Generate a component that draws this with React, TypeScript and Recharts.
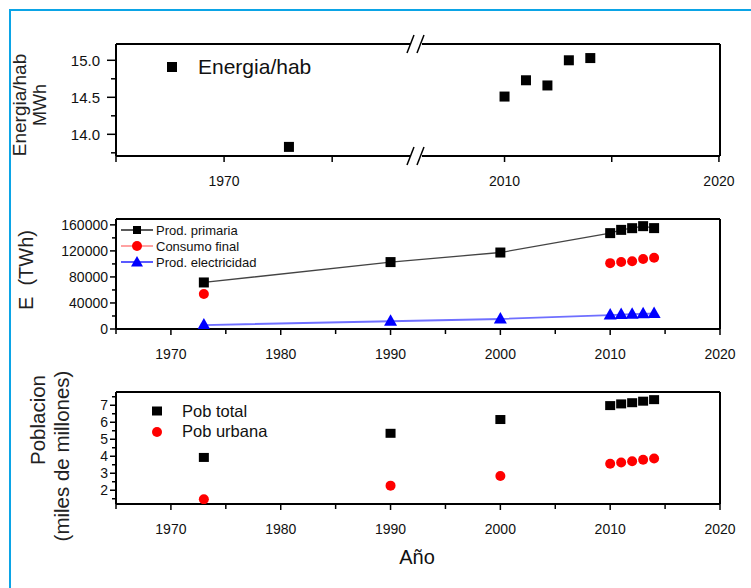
import React from "react";
import { ScatterChart, Scatter, XAxis, YAxis, Legend, Label, ReferenceLine } from "recharts";

const FONT = '"Liberation Sans", Arial, Helvetica, sans-serif';
const FRAME_BLUE = "#0ba4e6";

// Energia/hab (MWh) - eje x con corte
const energiaYears = [1973, 2010, 2011, 2012, 2013, 2014];
const energiaHab = [13.83, 14.51, 14.73, 14.66, 15.0, 15.03];

// E (TWh)
const eYears = [1973, 1990, 2000, 2010, 2011, 2012, 2013, 2014];
const prodPrimaria = [71500, 102800, 117500, 147300, 152300, 154900, 158000, 155000];
const consumoYears = [1973, 2010, 2011, 2012, 2013, 2014];
const consumoFinal = [53700, 101200, 103000, 104000, 107500, 109500];
const prodElectricidad = [6100, 11900, 15400, 21400, 22200, 22700, 23300, 23800];

// Poblacion (miles de millones)
const popYears = [1973, 1990, 2000, 2010, 2011, 2012, 2013, 2014];
const pobTotal = [3.93, 5.35, 6.16, 6.98, 7.08, 7.15, 7.24, 7.33];
const pobUrbana = [1.47, 2.27, 2.84, 3.56, 3.63, 3.71, 3.79, 3.87];

// ticks
const yearTicks = [1965, 1970, 1975, 1980, 1985, 1990, 1995, 2000, 2005, 2010, 2015, 2020];
const yearLabels = [1970, 1980, 1990, 2000, 2010, 2020];
const leftYearTicks = [1965, 1970, 1975];
const rightYearTicks = [2010, 2015, 2020];
const brokenYearLabels = [1970, 2010, 2020];
const energiaTicks = [13.75, 14, 14.25, 14.5, 14.75, 15];
const energiaLabels = [14, 14.5, 15];
const eTicks = [0, 20000, 40000, 60000, 80000, 100000, 120000, 140000, 160000];
const eLabels = [0, 40000, 80000, 120000, 160000];
const popTicks = [1.5, 2, 2.5, 3, 3.5, 4, 4.5, 5, 5.5, 6, 6.5, 7, 7.5];
const popLabels = [2, 3, 4, 5, 6, 7];

const toPoints = (xs: number[], ys: number[]) => xs.map((x, i) => ({ x, y: ys[i] }));

const axisLine = { stroke: "#000", strokeWidth: 2 };

function xTick(labels: number[], major: number, minor: number) {
  return (props: any) => {
    const { x, y, payload } = props;
    const on = labels.includes(payload.value);
    return (
      <g>
        <line x1={x} x2={x} y1={y} y2={y + (on ? major : minor)} stroke="#000" strokeWidth={1.5} />
        {on && (
          <text x={x} y={y + 30} textAnchor="middle" fontFamily={FONT} fontSize={14} fill="#111">
            {payload.value}
          </text>
        )}
      </g>
    );
  };
}

function yTick(labels: number[], major: number, minor: number, gap: number, fmt: (v: number) => string, size = 14) {
  return (props: any) => {
    const { x, y, payload } = props;
    const on = labels.includes(payload.value);
    return (
      <g>
        <line x1={x - (on ? major : minor)} x2={x} y1={y} y2={y} stroke="#000" strokeWidth={1.5} />
        {on && (
          <text x={x - major - gap} y={y} dy="0.36em" textAnchor="end" fontFamily={FONT} fontSize={size} fill="#111">
            {fmt(payload.value)}
          </text>
        )}
      </g>
    );
  };
}

const square = (w: number, h: number) => (p: any) =>
  <rect x={p.cx - w / 2} y={p.cy - h / 2} width={w} height={h} fill="#000" />;
const redDot = (p: any) => <circle cx={p.cx} cy={p.cy} r={5} fill="#ff0000" />;
const blueTri = (p: any) => (
  <polygon points={`${p.cx},${p.cy - 7} ${p.cx - 6.5},${p.cy + 4.5} ${p.cx + 6.5},${p.cy + 4.5}`} fill="#0000ff" />
);

const eSeries = [
  { name: "Prod. primaria", line: "#000", kind: "square" },
  { name: "Consumo final", line: "#ff7070", kind: "circle" },
  { name: "Prod. electricidad", line: "#0000ff", kind: "triangle" },
];

function marker(kind: string, cx: number, cy: number) {
  if (kind === "square") return <rect x={cx - 4} y={cy - 4} width={8} height={8} fill="#000" />;
  if (kind === "circle") return <circle cx={cx} cy={cy} r={5} fill="#ff0000" />;
  return <polygon points={`${cx},${cy - 6} ${cx - 6},${cy + 4.5} ${cx + 6},${cy + 4.5}`} fill="#0000ff" />;
}

function ELegend() {
  return (
    <div style={{ fontFamily: FONT, fontSize: 13, color: "#111" }}>
      {eSeries.map((s) => (
        <div key={s.name} style={{ display: "flex", alignItems: "center", height: 16 }}>
          <svg width={34} height={16}>
            <line x1={0} x2={32} y1={8} y2={8} stroke={s.line} strokeWidth={1.3} />
            {marker(s.kind, 16, 8)}
          </svg>
          <span style={{ marginLeft: 1 }}>{s.name}</span>
        </div>
      ))}
    </div>
  );
}

function PopLegend() {
  const rows = [
    { name: "Pob total", kind: "square" },
    { name: "Pob urbana", kind: "circle" },
  ];
  return (
    <div style={{ fontFamily: FONT, fontSize: 16.5, color: "#111" }}>
      {rows.map((r) => (
        <div key={r.name} style={{ display: "flex", alignItems: "center", height: 20.5 }}>
          <svg width={14} height={20}>
            {r.kind === "square" ? <rect x={2} y={5.5} width={10} height={9} fill="#000" /> : <circle cx={7} cy={10} r={5} fill="#ff0000" />}
          </svg>
          <span style={{ marginLeft: 18 }}>{r.name}</span>
        </div>
      ))}
    </div>
  );
}

function EnergiaLegend() {
  return (
    <div style={{ fontFamily: FONT, fontSize: 21, color: "#111", display: "flex", alignItems: "center", height: 24 }}>
      <svg width={12} height={24}>
        <rect x={1} y={7} width={10} height={10} fill="#000" />
      </svg>
      <span style={{ marginLeft: 20 }}>Energia/hab</span>
    </div>
  );
}

const frame = { stroke: "#000", strokeWidth: 2 };

function TopPanel() {
  const pts = toPoints(energiaYears, energiaHab);
  const leftPts = pts.filter((p) => p.x < 1990);
  const rightPts = pts.filter((p) => p.x >= 1990);
  const yDomain = [13.707, 15.22];
  return (
    <>
      <div style={{ position: "absolute", left: 0, top: 0 }}>
        <ScatterChart width={410} height={200} margin={{ top: 44, right: 0, bottom: 14, left: 0 }}>
          <XAxis dataKey="x" type="number" domain={[1965, 1978.6]} allowDataOverflow ticks={leftYearTicks} interval={0}
            tickSize={0} tickMargin={0} tickLine={false} axisLine={axisLine} height={30} tick={xTick(brokenYearLabels, 6, 6)} />
          <YAxis dataKey="y" type="number" domain={yDomain} allowDataOverflow ticks={energiaTicks} interval={0}
            tickSize={0} tickMargin={0} tickLine={false} axisLine={axisLine} width={116}
            tick={yTick(energiaLabels, 9, 5, 7, (v) => v.toFixed(1), 15)}>
            <Label content={() => (
              <g fontFamily={FONT} fill="#222">
                <text transform="translate(26,105) rotate(-90)" textAnchor="middle" fontSize={19}>Energia/hab</text>
                <text transform="translate(46,105) rotate(-90)" textAnchor="middle" fontSize={18}>MWh</text>
              </g>
            )} />
          </YAxis>
          <ReferenceLine y={yDomain[1]} {...frame} />
          <Legend layout="vertical" align="center" verticalAlign="middle" wrapperStyle={{ left: 166, top: 55, width: "auto" }}
            content={() => <EnergiaLegend />} />
          <Scatter data={leftPts} shape={square(10, 10)} isAnimationActive={false} />
        </ScatterChart>
      </div>
      <div style={{ position: "absolute", left: 422, top: 0 }}>
        <ScatterChart width={329} height={200} margin={{ top: 44, right: 31, bottom: 14, left: 0 }}>
          <XAxis dataKey="x" type="number" domain={[2006.15, 2020.05]} allowDataOverflow ticks={rightYearTicks} interval={0}
            tickSize={0} tickMargin={0} tickLine={false} axisLine={axisLine} height={30} tick={xTick(brokenYearLabels, 6, 6)} />
          <YAxis dataKey="y" type="number" domain={yDomain} allowDataOverflow hide />
          <ReferenceLine y={yDomain[1]} {...frame} />
          <ReferenceLine x={2020.05} {...frame} />
          <Scatter data={rightPts} shape={square(10, 10)} isAnimationActive={false} />
        </ScatterChart>
      </div>
      <svg width={751} height={200} style={{ position: "absolute", left: 0, top: 0, pointerEvents: "none" }}>
        {[44, 156].map((y) => (
          <g key={y} stroke="#000" strokeWidth={1.5}>
            <line x1={407} y1={y + 9} x2={414} y2={y - 9} />
            <line x1={417} y1={y + 9} x2={424} y2={y - 9} />
          </g>
        ))}
      </svg>
    </>
  );
}

function MiddlePanel() {
  const primaria = toPoints(eYears, prodPrimaria);
  const consumo = toPoints(consumoYears, consumoFinal);
  const electricidad = toPoints(eYears, prodElectricidad);
  const yMax = 169000;
  return (
    <div style={{ position: "absolute", left: 0, top: 200 }}>
      <ScatterChart width={751} height={170} margin={{ top: 19, right: 31, bottom: 11, left: 0 }}>
        <XAxis dataKey="x" type="number" domain={[1965, 2020]} allowDataOverflow ticks={yearTicks} interval={0}
          tickSize={0} tickMargin={0} tickLine={false} axisLine={axisLine} height={30} tick={xTick(yearLabels, 6, 5)} />
        <YAxis dataKey="y" type="number" domain={[0, yMax]} allowDataOverflow ticks={eTicks} interval={0}
          tickSize={0} tickMargin={0} tickLine={false} axisLine={axisLine} width={116}
          tick={yTick(eLabels, 6, 4, 2, (v) => String(v))}>
          <Label content={() => (
            <text transform="translate(33,70) rotate(-90)" textAnchor="middle" fontSize={20} fontFamily={FONT}
              fill="#222" style={{ whiteSpace: "pre" }}>{"E  (TWh)"}</text>
          )} />
        </YAxis>
        <ReferenceLine y={yMax} {...frame} />
        <ReferenceLine x={2020} {...frame} />
        <Legend layout="vertical" align="center" verticalAlign="middle" wrapperStyle={{ left: 121, top: 22, width: "auto" }}
          content={() => <ELegend />} />
        <Scatter data={electricidad} line={{ stroke: "#6f6fff", strokeWidth: 1.8 }} shape={blueTri} isAnimationActive={false} />
        <Scatter data={primaria} line={{ stroke: "#444", strokeWidth: 1.3 }} shape={square(10, 10)} isAnimationActive={false} />
        <Scatter data={consumo} shape={redDot} isAnimationActive={false} />
      </ScatterChart>
    </div>
  );
}

function BottomPanel() {
  const total = toPoints(popYears, pobTotal);
  const urbana = toPoints(popYears, pobUrbana);
  const yDomain = [1.19, 7.78];
  return (
    <div style={{ position: "absolute", left: 0, top: 370 }}>
      <ScatterChart width={751} height={218} margin={{ top: 22, right: 31, bottom: 54, left: 0 }}>
        <XAxis dataKey="x" type="number" domain={[1965, 2020]} allowDataOverflow ticks={yearTicks} interval={0}
          tickSize={0} tickMargin={0} tickLine={false} axisLine={axisLine} height={30} tick={xTick(yearLabels, 6, 5)}>
          <Label content={() => (
            <text x={417} y={194} textAnchor="middle" fontSize={20} fontFamily={FONT} fill="#111">Año</text>
          )} />
        </XAxis>
        <YAxis dataKey="y" type="number" domain={yDomain} allowDataOverflow ticks={popTicks} interval={0}
          tickSize={0} tickMargin={0} tickLine={false} axisLine={axisLine} width={116}
          tick={yTick(popLabels, 6, 4, 2, (v) => String(v))}>
          <Label content={() => (
            <g fontFamily={FONT} fill="#222" fontSize={20.5}>
              <text transform="translate(45,50) rotate(-90)" textAnchor="middle">Poblacion</text>
              <text transform="translate(69,86) rotate(-90)" textAnchor="middle">(miles de millones)</text>
            </g>
          )} />
        </YAxis>
        <ReferenceLine y={yDomain[1]} {...frame} />
        <ReferenceLine x={2020} {...frame} />
        <Legend layout="vertical" align="center" verticalAlign="middle" wrapperStyle={{ left: 150, top: 31, width: "auto" }}
          content={() => <PopLegend />} />
        <Scatter data={total} shape={square(10, 9)} isAnimationActive={false} />
        <Scatter data={urbana} shape={redDot} isAnimationActive={false} />
      </ScatterChart>
    </div>
  );
}

export default function App() {
  return (
    <div style={{ position: "absolute", left: 0, top: 0, width: 751, height: 588, background: "#fff", overflow: "hidden" }}>
      <div style={{ position: "absolute", left: 9, top: 9, right: 0, bottom: 0,
        borderTop: `2px solid ${FRAME_BLUE}`, borderLeft: `2px solid ${FRAME_BLUE}` }} />
      <TopPanel />
      <MiddlePanel />
      <BottomPanel />
    </div>
  );
}
